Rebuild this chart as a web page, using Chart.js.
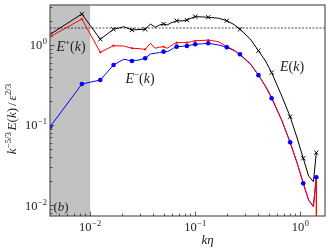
<!DOCTYPE html>
<html><head><meta charset="utf-8">
<script src="https://cdn.jsdelivr.net/npm/chart.js@4.4.0/dist/chart.umd.min.js"></script>
<style>html,body{margin:0;padding:0;background:#fff;} canvas{display:block;}</style>
</head><body>
<canvas id="c" width="332" height="249"></canvas>
<script>
// k*eta values (wavenumber shells)
const kEta = [0.00417,0.00834,0.0125,0.0167,0.0209,0.0250,0.0292,0.0334,0.0375,0.0417,0.0459,0.0500,0.0542,0.0584,0.0626,0.0667,0.0751,0.0834,0.0917,0.100,0.117,0.133,0.167,0.200,0.234,0.267,0.334,0.400,0.467,0.534,0.667,0.801,0.934,1.068,1.201,1.334,1.422,1.425];
// compensated total spectrum E(k)
const eTotal = [1.36,2.44,1.18,1.57,1.69,1.54,1.56,1.57,1.83,1.66,1.78,1.83,1.78,1.88,1.94,2.01,2.0,2.05,2.17,2.26,2.24,2.22,2.16,2.01,1.80,1.57,1.19,0.849,0.63,0.451,0.23,0.127,0.0688,0.0384,0.023,0.0196,0.045,null];
// E+(k)
const ePlus = [1.27,2.11,0.81,0.98,0.97,0.91,0.90,0.88,1.05,0.91,0.94,0.95,0.91,0.97,1.03,1.07,1.07,1.07,1.10,1.13,1.14,1.15,1.10,0.953,0.866,0.75,0.579,0.42,0.307,0.222,0.115,0.0608,0.0335,0.0187,0.0115,0.0095,0.0226,0.0001];
// E-(k)
const eMinus = [0.0953,0.325,0.365,0.562,0.663,0.63,0.65,0.682,0.772,0.788,0.806,0.825,0.825,0.866,0.917,0.953,0.963,0.972,1.0,1.02,1.035,1.05,1.0,0.936,0.853,0.765,0.587,0.42,0.303,0.216,0.114,0.0608,0.0335,0.0187,0.0115,0.0097,0.0222,null];
// shells that carry a marker
const markedKEta = [0.00417,0.00834,0.0125,0.0167,0.0250,0.0334,0.0500,0.0667,0.0834,0.100,0.133,0.200,0.267,0.400,0.534,0.801,1.068,1.422];
const kolmogorovLevel = 1.63;
const shadeLimit = 0.01;
const xTickValues = [0.01, 0.1, 1];
const yTickValues = [0.01, 0.1, 1];
const xTickExp = ['\u22122', '\u22121', '0'];
const yTickExp = ['\u22122', '\u22121', '0'];

const SERIF = '"Liberation Serif", "DejaVu Serif", serif';
const pts = arr => kEta.map((x, i) => ({x: x, y: arr[i]}));
const marked = (r) => (c) => markedKEta.includes(kEta[c.dataIndex]) ? r : 0;

function drawPow(ctx, exp, x, y, align) {
  ctx.font = '12.5px ' + SERIF;
  const wb = ctx.measureText('10').width;
  ctx.font = '8.5px ' + SERIF;
  const we = ctx.measureText(exp).width;
  const w = wb + we + 0.5;
  let x0 = align === 'right' ? x - w : x - w / 2;
  ctx.textAlign = 'left';
  ctx.textBaseline = 'alphabetic';
  ctx.font = '12.5px ' + SERIF;
  ctx.fillText('10', x0, y);
  ctx.font = '8.5px ' + SERIF;
  ctx.fillText(exp, x0 + wb + 0.5, y - 5);
}

function drawRuns(ctx, runs, cx, cy) {
  let total = 0;
  runs.forEach(r => { ctx.font = (r.it ? 'italic ' : '') + r.s + 'px ' + SERIF; r.w = ctx.measureText(r.t).width + (r.pad || 0); total += r.w; });
  let x = cx - total / 2;
  ctx.textAlign = 'left'; ctx.textBaseline = 'alphabetic';
  runs.forEach(r => {
    ctx.font = (r.it ? 'italic ' : '') + r.s + 'px ' + SERIF;
    ctx.fillText(r.t, x, cy - (r.up || 0));
    x += r.w;
  });
}

const decor = {
  id: 'decor',
  beforeDatasetsDraw(chart) {
    const {ctx, chartArea: a, scales: {x}} = chart;
    ctx.save();
    ctx.fillStyle = '#c2c2c2';
    const xr = x.getPixelForValue(shadeLimit);
    ctx.fillRect(a.left, a.top, xr - a.left, a.bottom - a.top);
    ctx.restore();
  },
  afterDraw(chart) {
    const {ctx, chartArea: a, scales: {x, y}} = chart;
    ctx.save();
    // frame
    ctx.strokeStyle = '#555';
    ctx.lineWidth = 1.2;
    ctx.strokeRect(a.left, a.top, a.right - a.left, a.bottom - a.top);
    // ticks
    ctx.lineWidth = 0.8;
    ctx.strokeStyle = '#333';
    ctx.beginPath();
    for (let n = -3; n <= 1; n++) {
      for (let m = 1; m <= 9; m++) {
        const v = m * Math.pow(10, n);
        const len = m === 1 ? 4.5 : 2.5;
        if (v >= x.min && v <= x.max) {
          const px = Math.round(x.getPixelForValue(v)) + 0.5;
          ctx.moveTo(px, a.bottom); ctx.lineTo(px, a.bottom - len);
        }
        if (v >= y.min && v <= y.max) {
          const py = Math.round(y.getPixelForValue(v)) + 0.5;
          ctx.moveTo(a.left, py); ctx.lineTo(a.left + len, py);
        }
      }
    }
    ctx.stroke();
    ctx.fillStyle = '#222';
    xTickValues.forEach((v, i) => drawPow(ctx, xTickExp[i], x.getPixelForValue(v), a.bottom + 15, 'center'));
    yTickValues.forEach((v, i) => drawPow(ctx, yTickExp[i], a.left - 3, y.getPixelForValue(v) + 4.5, 'right'));
    // x title
    drawRuns(ctx, [{t: 'k\u03b7', it: true, s: 13}], (a.left + a.right) / 2 + 20, a.bottom + 28);
    // y title
    ctx.save();
    ctx.translate(16, 119);
    ctx.rotate(-Math.PI / 2);
    drawRuns(ctx, [
      {t: 'k', it: true, s: 13},
      {t: '\u22125/3', s: 9, up: 5, pad: 1.5},
      {t: 'E', it: true, s: 13},
      {t: '(', s: 13}, {t: 'k', it: true, s: 13}, {t: ')', s: 13, pad: 2},
      {t: '/', s: 13, pad: 2},
      {t: '\u03b5', it: true, s: 13},
      {t: '2/3', s: 9, up: 5}
    ], 0, 0);
    ctx.restore();
    // series labels
    ctx.fillStyle = '#222';
    const lbl = (runs, cx, cy) => drawRuns(ctx, runs, cx, cy);
    lbl([{t: 'E', it: true, s: 14}, {t: '+', s: 9, up: 6}, {t: '(', s: 14}, {t: 'k', it: true, s: 14}, {t: ')', s: 14}], 71, 51);
    lbl([{t: 'E', it: true, s: 14}, {t: '\u2212', s: 9, up: 6}, {t: '(', s: 14}, {t: 'k', it: true, s: 14}, {t: ')', s: 14}], 140, 83);
    lbl([{t: 'E', it: true, s: 14}, {t: '(', s: 14}, {t: 'k', it: true, s: 14}, {t: ')', s: 14}], 292, 71);
    lbl([{t: '(', s: 13}, {t: 'b', it: true, s: 13}, {t: ')', s: 13}], 61, 211);
    ctx.restore();
  }
};

new Chart(document.getElementById('c'), {
  type: 'line',
  data: {
    datasets: [
      {data: pts(eMinus), showLine: false, pointRadius: marked(2.3), pointBackgroundColor: '#0000ff', pointBorderColor: '#0000ff', pointBorderWidth: 0, pointHoverRadius: 0},
      {data: pts(ePlus), borderColor: '#ff0000', borderWidth: 1, pointRadius: marked(1.1), pointBackgroundColor: '#ff0000', pointBorderWidth: 0, tension: 0},
      {data: pts(eMinus), borderColor: '#0000ff', borderWidth: 1, pointRadius: 0, tension: 0},
      {data: pts(eTotal), borderColor: '#000', borderWidth: 1, pointStyle: 'crossRot', pointRadius: marked(3), pointBorderColor: '#000', pointBorderWidth: 1, tension: 0},
      {data: [{x: 0.00415, y: kolmogorovLevel}, {x: 1.72, y: kolmogorovLevel}], borderColor: '#000', borderWidth: 0.7, borderDash: [2, 1.5], pointRadius: 0}
    ]
  },
  options: {
    responsive: false, animation: false, events: [],
    layout: {padding: {left: 50, right: 7, top: 5, bottom: 33}},
    plugins: {legend: {display: false}, tooltip: {enabled: false}},
    scales: {
      x: {type: 'logarithmic', min: 0.00415, max: 1.72, display: false},
      y: {type: 'logarithmic', min: 0.00729, max: 3.16, display: false}
    }
  },
  plugins: [decor]
});
</script>
</body></html>
